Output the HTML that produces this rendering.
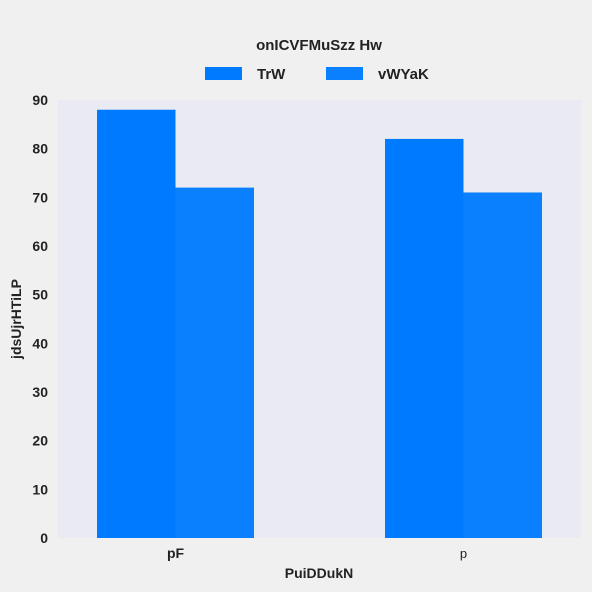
<!DOCTYPE html>
<html><head><meta charset="utf-8"><style>
body{margin:0;background:#f0f0f0;}
svg{display:block;font-family:"Liberation Sans",Arial,sans-serif;}
</style></head><body>
<svg id="c" width="592" height="592">
<rect width="592" height="592" fill="#f0f0f0"/>
<rect x="58" y="100" width="523" height="438" fill="#eaeaf2"/>
<text x="319" y="50" text-anchor="middle" font-size="15" font-weight="bold" fill="#222">onICVFMuSzz Hw</text>
<g><rect x="205" y="67" width="37" height="13" fill="#007bff"/><text x="257" y="79" font-size="15" font-weight="bold" fill="#222">TrW</text></g>
<g><rect x="326" y="67" width="37" height="13" fill="#0a80ff"/><text x="378" y="79" font-size="15" font-weight="bold" fill="#222">vWYaK</text></g>
<text transform="translate(21,319) rotate(-90)" text-anchor="middle" font-size="14" font-weight="bold" fill="#222">jdsUjrHTiLP</text>
<text x="319" y="578" text-anchor="middle" font-size="14" font-weight="bold" fill="#222">PuiDDukN</text>
</svg>
<script>
const categories=["pF","p"];
const seriesA=[88,82];
const seriesB=[72,71];
const yTicks=[0,10,20,30,40,50,60,70,80,90];
const svg=document.getElementById('c');
const NS='http://www.w3.org/2000/svg';
const y0=538,yTop=100,yMax=90;
const y=v=>y0-(v/yMax)*(y0-yTop);
const cx=i=>175.5+288*i;
function mk(t,a){const e=document.createElementNS(NS,t);for(const k in a)e.setAttribute(k,a[k]);svg.appendChild(e);return e;}
yTicks.forEach(t=>{
const e=mk('text',{x:48,y:y(t)+5,'text-anchor':'end','font-size':14,'font-weight':'bold',fill:'#222'});
e.textContent=t;


});
const bw=78.5;
categories.forEach((c,i)=>{
const a=mk('rect',{x:cx(i)-bw,y:y(seriesA[i]),width:bw,height:y0-y(seriesA[i]),fill:'#007bff'});


const b=mk('rect',{x:cx(i),y:y(seriesB[i]),width:bw,height:y0-y(seriesB[i]),fill:'#0a80ff'});


const t=mk('text',{x:cx(i),y:558,'text-anchor':'middle','font-size':i==0?14:13,'font-weight':i==0?'bold':'normal',fill:'#222'});
t.textContent=c;


});
</script>
</body></html>
